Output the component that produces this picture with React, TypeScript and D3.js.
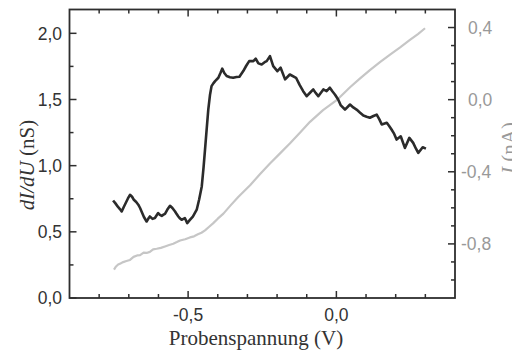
import React from "react";
import * as d3 from "d3";

// Differential conductance dI/dU (nS) vs. sample bias (V)
const biasG = [
  -0.753, -0.745, -0.737, -0.73, -0.724, -0.717, -0.71, -0.703, -0.696, -0.689,
  -0.683, -0.675, -0.668, -0.662, -0.657, -0.649, -0.64, -0.634, -0.629, -0.62,
  -0.612, -0.606, -0.601, -0.595, -0.589, -0.583, -0.578, -0.57, -0.561, -0.553,
  -0.544, -0.538, -0.533, -0.527, -0.522, -0.516, -0.511, -0.503, -0.494, -0.484,
  -0.471, -0.463, -0.454, -0.448, -0.443, -0.437, -0.432, -0.426, -0.421, -0.415,
  -0.409, -0.398, -0.391, -0.385, -0.378, -0.37, -0.359, -0.348, -0.337, -0.327,
  -0.314, -0.304, -0.294, -0.28, -0.272, -0.263, -0.252, -0.242, -0.235, -0.224,
  -0.213, -0.199, -0.188, -0.173, -0.157, -0.136, -0.124, -0.112, -0.1, -0.089,
  -0.078, -0.07, -0.061, -0.044, -0.033, -0.022, -0.013, -0.005, 0.006, 0.015,
  0.029, 0.046, 0.057, 0.068, 0.08, 0.091, 0.102, 0.113, 0.125, 0.136,
  0.145, 0.153, 0.17, 0.178, 0.186, 0.195, 0.203, 0.217, 0.231, 0.246,
  0.259, 0.268, 0.276, 0.291, 0.302,
];
const conductance = [
  0.737, 0.715, 0.69, 0.672, 0.654, 0.688, 0.72, 0.752, 0.78, 0.765,
  0.742, 0.725, 0.705, 0.68, 0.654, 0.612, 0.578, 0.6, 0.616, 0.598,
  0.604, 0.625, 0.642, 0.628, 0.621, 0.63, 0.636, 0.668, 0.697, 0.68,
  0.654, 0.632, 0.616, 0.6, 0.591, 0.598, 0.604, 0.566, 0.59, 0.615,
  0.667, 0.742, 0.843, 0.985, 1.121, 1.288, 1.424, 1.538, 1.601, 1.622,
  1.639, 1.664, 1.7, 1.733, 1.7, 1.677, 1.668, 1.664, 1.67, 1.672,
  1.715, 1.755, 1.79, 1.79, 1.808, 1.773, 1.765, 1.782, 1.79, 1.828,
  1.752, 1.714, 1.74, 1.652, 1.689, 1.664, 1.61, 1.563, 1.525, 1.551,
  1.576, 1.55, 1.525, 1.576, 1.563, 1.589, 1.56, 1.538, 1.5, 1.455,
  1.424, 1.462, 1.44, 1.424, 1.4, 1.379, 1.37, 1.362, 1.375, 1.386,
  1.35, 1.311, 1.324, 1.3, 1.273, 1.24, 1.197, 1.222, 1.134, 1.21,
  1.172, 1.13, 1.096, 1.139, 1.129,
];

// Tunnel current I (nA) vs. sample bias (V)
const biasI = [
  -0.75, -0.743, -0.736, -0.728, -0.719, -0.708, -0.696, -0.684, -0.672, -0.662,
  -0.65, -0.64, -0.629, -0.618, -0.606, -0.592, -0.578, -0.564, -0.55, -0.538,
  -0.527, -0.51, -0.494, -0.48, -0.467, -0.455, -0.443, -0.43, -0.416, -0.4,
  -0.381, -0.356, -0.331, -0.291, -0.258, -0.224, -0.19, -0.157, -0.123, -0.089,
  -0.045, 0.001, 0.046, 0.08, 0.113, 0.147, 0.181, 0.215, 0.248, 0.275, 0.299,
];
const current = [
  -0.943, -0.925, -0.914, -0.908, -0.901, -0.895, -0.889, -0.872, -0.864, -0.862,
  -0.848, -0.85, -0.844, -0.83, -0.827, -0.822, -0.814, -0.806, -0.799, -0.79,
  -0.781, -0.774, -0.764, -0.758, -0.747, -0.738, -0.725, -0.706, -0.686, -0.66,
  -0.632, -0.585, -0.54, -0.475, -0.414, -0.354, -0.298, -0.243, -0.183, -0.123,
  -0.058, -0.003, 0.069, 0.118, 0.164, 0.208, 0.25, 0.29, 0.331, 0.364, 0.396,
];

const xMajor = [-0.5, 0.0];
const xMinor = [-0.8, -0.7, -0.6, -0.4, -0.3, -0.2, -0.1, 0.1, 0.2, 0.3];
const gMajor = [0, 0.5, 1.0, 1.5, 2.0];
const gMinor = [0.25, 0.75, 1.25, 1.75];
const iMajor = [-0.8, -0.4, 0.0, 0.4];
const iMinor = [-1.0, -0.9, -0.7, -0.6, -0.5, -0.3, -0.2, -0.1, 0.1, 0.2, 0.3, 0.5];

const W = 512;
const H = 354;
const left = 69.5;
const right = 455;
const top = 9.5;
const bottom = 298;

const fmt = (v: number) => d3.format(".1f")(v).replace(".", ",").replace("−", "-");

export default function App() {
  const x = d3.scaleLinear().domain([-0.9, 0.4]).range([left, right]);
  const yG = d3.scaleLinear().domain([0, 2.18]).range([bottom, top]);
  const yI = d3.scaleLinear().domain([-1.1, 0.5]).range([bottom, top]);

  const gPts = biasG.map((v, i) => [v, conductance[i]] as [number, number]);
  const iPts = biasI.map((v, i) => [v, current[i]] as [number, number]);

  const lineG = d3
    .line<[number, number]>()
    .x((d) => x(d[0]))
    .y((d) => yG(d[1]));
  const lineI = d3
    .line<[number, number]>()
    .x((d) => x(d[0]))
    .y((d) => yI(d[1]));

  const axisColor = "#2e2e2e";
  const sans = "'Liberation Sans', Arial, sans-serif";
  const serif = "'Liberation Serif', 'Times New Roman', serif";
  const major = 7;
  const minor = 4;

  return (
    <svg width={W} height={H} style={{ position: "absolute", left: 0, top: 0, background: "#fff" }}>
      <rect width={W} height={H} fill="#fff" />

      {/* curves */}
      <path d={lineI(iPts) ?? ""} fill="none" stroke="#c6c6c6" strokeWidth={2.2} strokeLinejoin="round" />
      <path d={lineG(gPts) ?? ""} fill="none" stroke="#2b2b2b" strokeWidth={2.6} strokeLinejoin="round" />

      {/* frame */}
      <rect x={left} y={top} width={right - left} height={bottom - top} fill="none" stroke={axisColor} strokeWidth={1.8} />

      {/* bottom & top ticks */}
      {xMajor.map((v) => (
        <g key={"xM" + v}>
          <line x1={x(v)} x2={x(v)} y1={bottom} y2={bottom - major} stroke={axisColor} strokeWidth={1.5} />
          <line x1={x(v)} x2={x(v)} y1={top} y2={top + major} stroke={axisColor} strokeWidth={1.5} />
          <text x={x(v)} y={321} textAnchor="middle" fontFamily={sans} fontSize={17.5} fill="#333">
            {fmt(v)}
          </text>
        </g>
      ))}
      {xMinor.map((v) => (
        <g key={"xm" + v}>
          <line x1={x(v)} x2={x(v)} y1={bottom} y2={bottom - minor} stroke={axisColor} strokeWidth={1.5} />
          <line x1={x(v)} x2={x(v)} y1={top} y2={top + minor} stroke={axisColor} strokeWidth={1.5} />
        </g>
      ))}

      {/* left axis: dI/dU */}
      {gMajor.map((v) => (
        <g key={"gM" + v}>
          <line x1={left} x2={left + major} y1={yG(v)} y2={yG(v)} stroke={axisColor} strokeWidth={1.5} />
          <text x={62} y={yG(v)} dy="0.36em" textAnchor="end" fontFamily={sans} fontSize={17.5} fill="#333">
            {fmt(v)}
          </text>
        </g>
      ))}
      {gMinor.map((v) => (
        <line key={"gm" + v} x1={left} x2={left + minor} y1={yG(v)} y2={yG(v)} stroke={axisColor} strokeWidth={1.5} />
      ))}

      {/* right axis: I */}
      {iMajor.map((v) => (
        <g key={"iM" + v}>
          <line x1={right} x2={right - major} y1={yI(v)} y2={yI(v)} stroke={axisColor} strokeWidth={1.5} />
          <text x={v < 0 ? 461 : 468} y={yI(v)} dy="0.36em" textAnchor="start" fontFamily={sans} fontSize={17.5} fill="#999">
            {fmt(v)}
          </text>
        </g>
      ))}
      {iMinor
        .filter((v) => yI(v) > top + 1 && yI(v) < bottom - 1)
        .map((v) => (
          <line key={"im" + v} x1={right} x2={right - minor} y1={yI(v)} y2={yI(v)} stroke={axisColor} strokeWidth={1.5} />
        ))}

      {/* axis titles */}
      <text x={256} y={345} textAnchor="middle" fontFamily={serif} fontSize={21} fill="#333">
        Probenspannung (V)
      </text>
      <text
        transform={`translate(34,165) rotate(-90)`}
        textAnchor="middle"
        fontFamily={serif}
        fontSize={21}
        fill="#333"
      >
        <tspan fontStyle="italic">dI/dU</tspan>
        <tspan> (nS)</tspan>
      </text>
      <text
        transform={`translate(516,148) rotate(-90)`}
        textAnchor="middle"
        fontFamily={serif}
        fontSize={21}
        fill="#999"
      >
        <tspan fontStyle="italic">I</tspan>
        <tspan> (nA)</tspan>
      </text>
    </svg>
  );
}
